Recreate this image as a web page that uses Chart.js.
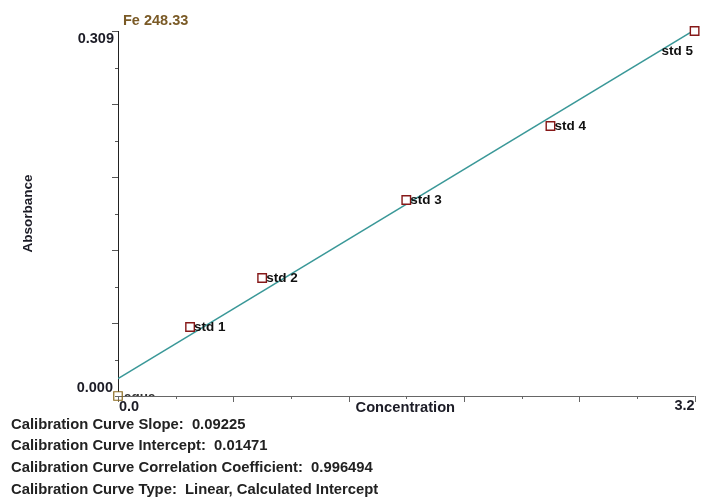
<!DOCTYPE html>
<html>
<head>
<meta charset="utf-8">
<script src="https://cdn.jsdelivr.net/npm/chart.js@4"></script>
<style>
  body { margin: 0; background: #fff; }
  #wrap { position: relative; width: 702px; height: 498px; overflow: hidden; }
  #calChart { position: absolute; left: 0; top: 0; }
  #info {
    position: absolute; left: 11px; top: 413.5px;
    font: bold 14.8px "Liberation Sans", Arial, sans-serif;
    line-height: 21.7px; color: #222; white-space: pre;
  }
</style>
</head>
<body>
<div id="wrap">
  <canvas id="calChart" width="702" height="420"></canvas>
  <div id="info"></div>
</div>
<script>
// values
const elementLine = 'Fe 248.33';
const stdNames = ['std 1', 'std 2', 'std 3', 'std 4', 'std 5'];
const stdConc = [0.4, 0.8, 1.6, 2.4, 3.2];
const stdAbs = [0.0584, 0.0999, 0.1659, 0.2286, 0.309];
const blankName = 'aqua';
const blankConc = [0];
const blankAbs = [0];
const fitConc = [0, 3.2];
const fitAbs = [0.0147, 0.3099];
const xTickLabels = ['0.0', '3.2'];
const yTickLabels = ['0.000', '0.309'];
const infoLines = [
  'Calibration Curve Slope:  0.09225',
  'Calibration Curve Intercept:  0.01471',
  'Calibration Curve Correlation Coefficient:  0.996494',
  'Calibration Curve Type:  Linear, Calculated Intercept'
];

document.getElementById('info').textContent = infoLines.join('\n');

const FONT = '"Liberation Sans", Arial, sans-serif';
const TEXT = '#1c1c26';

// axes, ticks and titles drawn the way the instrument software does it
const axesPlugin = {
  id: 'instrumentAxes',
  beforeDatasetsDraw(chart) {
    const { ctx, chartArea: a, scales: { x, y } } = chart;
    ctx.save();
    ctx.lineWidth = 1;

    // y axis + ticks to the left
    ctx.strokeStyle = '#222';
    ctx.beginPath();
    ctx.moveTo(a.left + 0.5, a.top);
    ctx.lineTo(a.left + 0.5, a.bottom - 4);
    ctx.stroke();
    ctx.strokeStyle = '#555';
    y.ticks.forEach((t, i) => {
      if (i === 0) return;
      const py = Math.round(y.getPixelForValue(t.value)) + 0.5;
      const len = i % 2 === 0 ? 6 : 3;
      ctx.beginPath();
      ctx.moveTo(a.left, py);
      ctx.lineTo(a.left - len, py);
      ctx.stroke();
    });

    // x axis + ticks pointing down
    ctx.strokeStyle = '#666';
    ctx.beginPath();
    ctx.moveTo(a.left - 3, a.bottom + 0.5);
    ctx.lineTo(a.right, a.bottom + 0.5);
    ctx.stroke();
    x.ticks.forEach((t, i) => {
      const px = Math.round(x.getPixelForValue(t.value)) + 0.5;
      const len = i % 2 === 0 ? 6 : 3;
      ctx.beginPath();
      ctx.moveTo(px, a.bottom);
      ctx.lineTo(px, a.bottom + len);
      ctx.stroke();
    });

    // tick labels only at the ends
    ctx.fillStyle = TEXT;
    ctx.font = 'bold 14.5px ' + FONT;
    ctx.textAlign = 'right';
    ctx.textBaseline = 'middle';
    ctx.fillText(yTickLabels[1], a.left - 4, y.getPixelForValue(y.max) + 8);
    ctx.fillText(yTickLabels[0], a.left - 5, y.getPixelForValue(y.min) - 8);
    ctx.textAlign = 'left';
    ctx.fillText(xTickLabels[0], x.getPixelForValue(x.min) + 1, a.bottom + 11);
    ctx.textAlign = 'right';
    ctx.fillText(xTickLabels[1], x.getPixelForValue(x.max), a.bottom + 10);

    // axis titles
    ctx.textAlign = 'center';
    ctx.font = 'bold 14.7px ' + FONT;
    ctx.fillText('Concentration', (a.left + a.right) / 2 - 1, a.bottom + 12);
    ctx.save();
    ctx.translate(28, (a.top + a.bottom) / 2);
    ctx.rotate(-Math.PI / 2);
    ctx.font = 'bold 13.5px ' + FONT;
    ctx.fillText('Absorbance', 0, 0);
    ctx.restore();

    // element / wavelength caption
    ctx.textAlign = 'left';
    ctx.fillStyle = '#7a5a26';
    ctx.font = 'bold 14.5px ' + FONT;
    ctx.fillText(elementLine, a.left + 5, a.top - 10);
    ctx.restore();
  }
};

// point labels, clipped to the plot area like the original
const labelPlugin = {
  id: 'pointLabels',
  afterDatasetsDraw(chart) {
    const { ctx, chartArea: a } = chart;
    ctx.save();
    ctx.beginPath();
    ctx.rect(a.left, a.top, a.right - a.left, a.bottom - a.top);
    ctx.clip();
    ctx.fillStyle = '#111';
    ctx.font = 'bold 13.5px ' + FONT;
    ctx.textBaseline = 'middle';
    chart.getDatasetMeta(1).data.forEach((pt, i) => {
      const w = ctx.measureText(stdNames[i]).width;
      if (pt.x + 4 + w > a.right) {
        ctx.textAlign = 'right';
        ctx.fillText(stdNames[i], pt.x - 1.5, pt.y + 20);
      } else {
        ctx.textAlign = 'left';
        ctx.fillText(stdNames[i], pt.x + 4, pt.y + 0.5);
      }
    });
    const bl = chart.getDatasetMeta(2).data[0];
    ctx.textAlign = 'left';
    ctx.fillStyle = '#333';
    ctx.fillText(blankName, bl.x + 6, bl.y + 1);
    ctx.restore();
  }
};

new Chart(document.getElementById('calChart'), {
  type: 'scatter',
  data: {
    datasets: [
      {
        type: 'line',
        label: 'fit',
        data: fitConc.map((c, i) => ({ x: c, y: fitAbs[i] })),
        borderColor: '#3a9898',
        borderWidth: 1.5,
        pointRadius: 0,
        order: 3
      },
      {
        label: 'standards',
        data: stdConc.map((c, i) => ({ x: c, y: stdAbs[i] })),
        pointStyle: 'rect',
        pointRadius: 6,
        borderColor: '#861818',
        backgroundColor: '#ffffff',
        borderWidth: 1.4,
        clip: false,
        order: 1
      },
      {
        label: 'blank',
        data: blankConc.map((c, i) => ({ x: c, y: blankAbs[i] })),
        pointStyle: 'rect',
        pointRadius: 6,
        borderColor: '#8a6a1e',
        backgroundColor: 'rgba(255,255,255,0)',
        borderWidth: 1.2,
        clip: false,
        order: 2
      }
    ]
  },
  options: {
    responsive: false,
    animation: false,
    layout: { padding: { left: 118, top: 31, right: 5, bottom: 24 } },
    plugins: { legend: { display: false }, tooltip: { enabled: false } },
    scales: {
      x: { type: 'linear', display: false, min: 0, max: 3.2, ticks: { count: 11 } },
      y: { type: 'linear', display: false, min: 0, max: 0.309, ticks: { count: 11 } }
    }
  },
  plugins: [axesPlugin, labelPlugin]
});
</script>
</body>
</html>
